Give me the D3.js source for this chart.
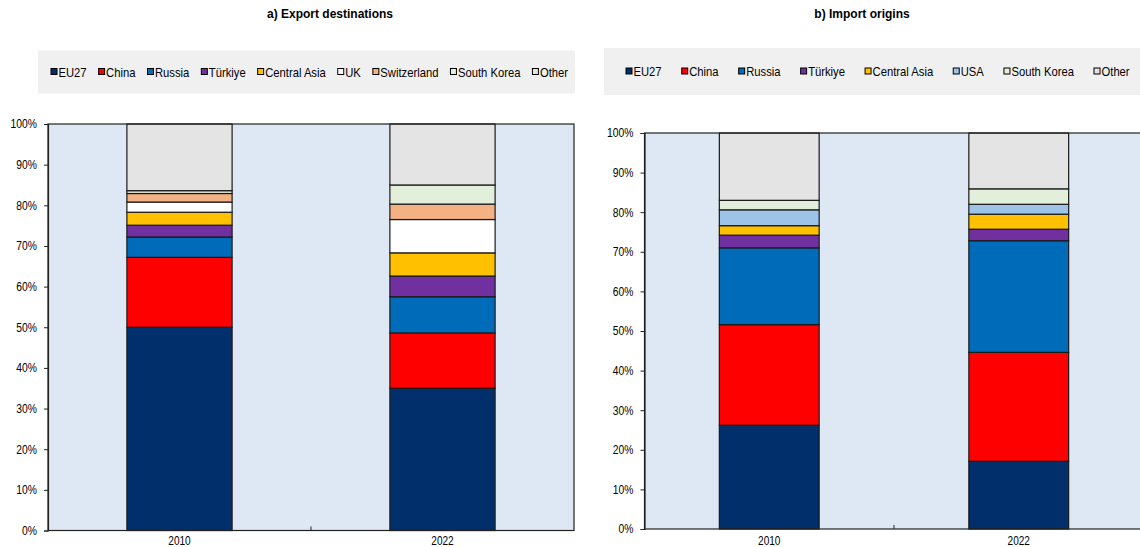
<!DOCTYPE html>
<html><head><meta charset="utf-8">
<script src="https://cdn.jsdelivr.net/npm/d3@7"></script>
<style>
body{margin:0;background:#fff;}
svg text{font-family:"Liberation Sans",Arial,sans-serif;fill:#000;}
</style></head>
<body><svg id="c" width="1140" height="547"></svg>
<script>
// ---- data ----
const years = ["2010", "2022"];
const yTicks = [0,10,20,30,40,50,60,70,80,90,100];

const exportSeries = ["EU27","China","Russia","Türkiye","Central Asia","UK","Switzerland","South Korea","Other"];
const export2010 = [50.0, 17.2, 5.0, 2.9, 3.2, 2.5, 2.1, 0.7, 16.4];
const export2022 = [35.0, 13.6, 8.9, 5.1, 5.7, 8.2, 3.8, 4.7, 15.0];

const importSeries = ["EU27","China","Russia","Türkiye","Central Asia","USA","South Korea","Other"];
const import2010 = [26.2, 25.4, 19.4, 3.2, 2.4, 4.0, 2.4, 17.0];
const import2022 = [17.1, 27.5, 28.2, 2.9, 3.8, 2.5, 3.9, 14.1];

const colors = {
  "EU27":"#002f6c","China":"#ff0000","Russia":"#006bb8","Türkiye":"#7030a0",
  "Central Asia":"#ffc000","UK":"#ffffff","Switzerland":"#f4b183","USA":"#9dc3e6",
  "South Korea":"#e2efda","Other":"#e4e4e4"
};

const NARROW = 0.86;
const svg = d3.select("#c");

// narrow text helper (emulates a condensed sans face)
function ntext(parent, x, y, str, size, anchor, weight, sx){
  const s = sx || NARROW;
  const gg = parent.append("g").attr("transform", `translate(${x},${y}) scale(${s},1)`);
  const t = gg.append("text").attr("x",0).attr("y",0).attr("font-size", size)
    .attr("text-anchor", anchor || "start").text(str);
  if (weight) t.attr("font-weight", weight);
  return t.node().getComputedTextLength() * s;
}

function panel(cfg){
  const g = svg.append("g");
  ntext(g, cfg.titleX, 18, cfg.title, 12.5, "middle", "bold", 0.96);

  // legend box
  g.append("rect").attr("x", cfg.leg.x).attr("y", cfg.leg.y).attr("width", cfg.leg.w).attr("height", cfg.leg.h)
    .attr("fill","#f0f0f0");
  let lx = cfg.leg.x0;
  const ly = cfg.leg.y + cfg.leg.h/2;
  cfg.series.forEach(s=>{
    g.append("rect").attr("x", lx+0.5).attr("y", ly-3.5).attr("width",6).attr("height",6)
      .attr("fill", colors[s]).attr("stroke","#000").attr("stroke-width",1);
    const w = ntext(g, lx+8, ly+4.5, s, 12.5, "start", null, 0.9);
    lx += 8 + w + cfg.leg.gap;
  });

  const x = d3.scaleBand().domain(years).range([cfg.x0, cfg.x1]);
  const y = d3.scaleLinear().domain([0,100]).range([cfg.y0, cfg.y1]);

  g.append("rect").attr("x", cfg.x0).attr("y", cfg.y1).attr("width", cfg.x1-cfg.x0).attr("height", cfg.y0-cfg.y1)
    .attr("fill","#dde8f4");

  const rows = years.map((yr,i)=>{
    const o = {year: yr};
    cfg.series.forEach((s,j)=>{ o[s] = cfg.values[i][j]; });
    return o;
  });
  const stack = d3.stack().keys(cfg.series)(rows);
  const bw = x.bandwidth()*0.4;
  stack.forEach(layer=>{
    g.selectAll(null).data(layer).enter().append("rect")
      .attr("x", d=>x(d.data.year) + x.bandwidth()/2 - bw/2)
      .attr("y", d=>y(d[1]))
      .attr("width", bw)
      .attr("height", d=>y(d[0])-y(d[1]))
      .attr("fill", colors[layer.key])
      .attr("stroke","#1a1a1a").attr("stroke-width",1.2);
  });

  g.append("rect").attr("x", cfg.x0).attr("y", cfg.y1).attr("width", cfg.x1-cfg.x0).attr("height", cfg.y0-cfg.y1)
    .attr("fill","none").attr("stroke","#222").attr("stroke-width",1.2);

  // y axis
  const ya = g.append("g").attr("transform",`translate(${cfg.x0},0)`)
    .call(d3.axisLeft(y).tickValues(yTicks).tickFormat(d=>d+"%").tickSize(4).tickPadding(7));
  ya.select(".domain").attr("stroke","#222").attr("stroke-width",1.2);
  ya.selectAll(".tick line").attr("stroke","#222");
  ya.selectAll(".tick text").attr("font-size",12).attr("fill","#000")
    .attr("x", -11/NARROW).attr("transform", `scale(${NARROW},1)`);

  // x axis labels
  const xa = g.append("g").attr("transform",`translate(0,${cfg.y0})`)
    .call(d3.axisBottom(x).tickSize(0).tickFormat(""));
  xa.select(".domain").remove();
  years.forEach(yr=>{
    ntext(g, x(yr)+x.bandwidth()/2, 545, yr, 12, "middle", null, 0.84);
  });
  g.append("line").attr("x1", x(years[1])).attr("x2", x(years[1]))
    .attr("y1", cfg.y0).attr("y2", cfg.y0-4).attr("stroke","#222").attr("stroke-width",1);
}

panel({
  title:"a) Export destinations", titleX:330,
  series: exportSeries, values:[export2010, export2022],
  leg:{x:38, y:50.5, w:537, h:43, x0:50.5, gap:11.5},
  x0:48, x1:574, y0:530.5, y1:124
});
panel({
  title:"b) Import origins", titleX:862,
  series: importSeries, values:[import2010, import2022],
  leg:{x:604, y:48, w:560, h:47, x0:625.5, gap:19.6},
  x0:644.5, x1:1143.5, y0:529, y1:133
});
</script></body></html>
